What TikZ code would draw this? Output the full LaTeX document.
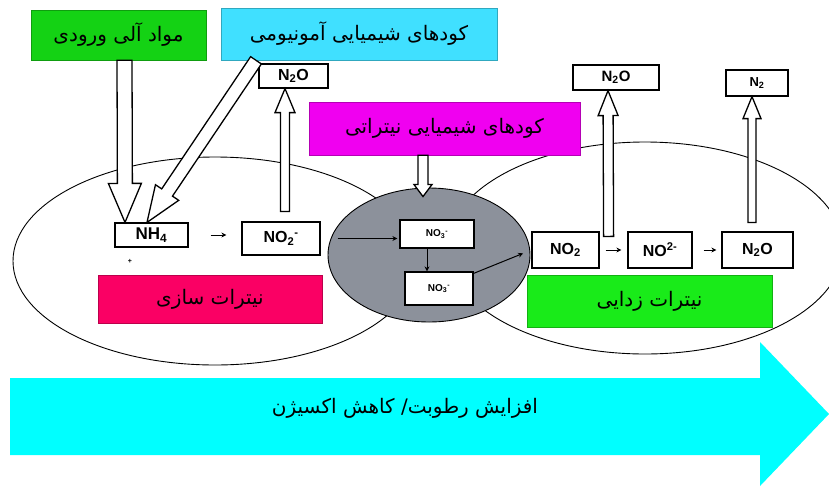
\documentclass[tikz,border=0pt]{standalone}
\usepackage{fontspec}
\setmainfont{Liberation Sans}
\newfontfamily\fafont[Script=Arabic]{DejaVu Sans}
\TeXXeTstate=1
\usetikzlibrary{calc,shapes.geometric,arrows.meta}
\definecolor{orggreen}{RGB}{20,210,20}
\definecolor{ammcyan}{RGB}{64,224,255}
\definecolor{nitmag}{RGB}{240,0,240}
\definecolor{nitred}{RGB}{250,0,100}
\definecolor{denitgreen}{RGB}{25,235,25}
\definecolor{mixgray}{RGB}{140,145,155}
\definecolor{trendcyan}{RGB}{0,255,255}
\newcommand{\hollowarrow}[5]{%
  \coordinate (hb) at ($(#2)!#5!(#1)$);
  \draw[hollow] ($(#1)!#3!90:(#2)$) -- ($(hb)!#3!90:(#2)$) -- ($(hb)!#4!90:(#2)$) -- (#2)
    -- ($(hb)!#4!-90:(#2)$) -- ($(hb)!#3!-90:(#2)$) -- ($(#1)!#3!-90:(#2)$) -- cycle;}

\begin{document}
\begin{tikzpicture}[x=1pt,y=-1pt,
  zone/.style={ellipse,draw,line width=0.9pt,inner sep=0pt},
  chem/.style={draw,line width=1.2pt,fill=white,inner sep=0pt},
  tag/.style={draw=#1!75!black,fill=#1,line width=0.6pt,inner sep=0pt,
    font=\fafont\fontsize{20}{24}\selectfont},
  flow/.style={-{Stealth[length=5pt,width=5pt]},line width=1pt},
  hollow/.style={draw=black,fill=white,line width=1.3pt,line join=miter}]
  \useasboundingbox (0,0) rectangle (829,488);
  \clip (0,0) rectangle (829,488);

  \node[zone,minimum width=404pt,minimum height=208pt] (lzone) at (215,261) {};
  \node[zone,minimum width=396pt,minimum height=212pt] (rzone) at (645,248) {};
  \node[zone,fill=mixgray,minimum width=202pt,minimum height=134pt] (mix) at (429,255) {};

  \node[tag=orggreen,minimum width=175pt,minimum height=50pt] (org) at (118.5,35) {\beginR مواد آلی ورودی\endR};
  \node[tag=ammcyan,minimum width=276pt,minimum height=52pt] (amm) at (359,34) {\beginR کودهای شیمیایی آمونیومی\endR};
  \node[tag=nitmag,minimum width=271pt,minimum height=53pt] (nitf) at (444.5,128.5) {\beginR کودهای شیمیایی نیتراتی\endR};
  \node[tag=nitred,minimum width=224pt,minimum height=48pt] (nitr) at (210,299) {\beginR نیترات سازی\endR};
  \node[tag=denitgreen,minimum width=245pt,minimum height=52pt] (denit) at (649.5,301) {\beginR نیترات زدایی\endR};

  \node[chem,minimum width=69pt,minimum height=24pt,font=\bfseries\fontsize{16}{16}\selectfont] (n2oa) at (293.5,76) {N\textsubscript{2}O};
  \node[chem,minimum width=86pt,minimum height=25pt,font=\bfseries\fontsize{15}{15}\selectfont] (n2ob) at (616,77.5) {N\textsubscript{2}O};
  \node[chem,minimum width=62pt,minimum height=26pt,font=\bfseries\fontsize{13}{13}\selectfont] (ntwo) at (757,83) {N\textsubscript{2}};
  \node[chem,minimum width=73pt,minimum height=24pt,font=\bfseries\fontsize{17}{17}\selectfont] (nh4) at (151.5,235) {NH\textsubscript{4}};
  \node[font=\bfseries\fontsize{7}{7}\selectfont] (plus) at (130,261) {+};
  \node[chem,minimum width=78pt,minimum height=33pt,font=\bfseries\fontsize{16}{16}\selectfont] (no2a) at (281,238.5) {NO\textsubscript{2}\textsuperscript{-}};
  \node[chem,minimum width=74pt,minimum height=28pt,font=\bfseries\fontsize{10}{10}\selectfont] (no3a) at (437,234) {NO\textsubscript{3}\textsuperscript{-}};
  \node[chem,minimum width=68pt,minimum height=33pt,font=\bfseries\fontsize{10}{10}\selectfont] (no3b) at (439,288.5) {NO\textsubscript{3}\textsuperscript{-}};
  \node[chem,minimum width=67pt,minimum height=36pt,font=\bfseries\fontsize{16}{16}\selectfont] (no2b) at (565.5,250) {NO\textsubscript{2}};
  \node[chem,minimum width=64pt,minimum height=36pt,font=\bfseries\fontsize{16}{16}\selectfont] (no2c) at (660,250) {NO\textsuperscript{2-}};
  \node[chem,minimum width=71pt,minimum height=36pt,font=\bfseries\fontsize{16}{16}\selectfont] (n2oc) at (757.5,250) {N\textsubscript{2}O};

  \coordinate (a1) at ([xshift=6pt]org.south);
  \coordinate (t1) at ([xshift=-26.5pt]nh4.north);
  \coordinate (a2) at ([xshift=-103pt]amm.south);
  \coordinate (t2) at ([xshift=-4.5pt]nh4.north);
  \coordinate (a3) at ([xshift=4pt,yshift=10pt]no2a.north);
  \coordinate (t3) at ([xshift=-8.5pt]n2oa.south);
  \coordinate (a4) at ([xshift=-21.5pt]nitf.south);
  \coordinate (t4) at ([xshift=-6pt,yshift=-9pt]mix.north);
  \coordinate (a5) at ([xshift=9pt,yshift=-5pt]no2b.north east);
  \coordinate (t5) at ([xshift=-8pt]n2ob.south);
  \coordinate (a6) at ([xshift=-5.5pt,yshift=9pt]n2oc.north);
  \coordinate (t6) at ([xshift=-5pt]ntwo.south);
  \hollowarrow{a1}{t1}{7.5pt}{16.5pt}{39pt}
  \hollowarrow{a2}{t2}{6.5pt}{14pt}{36pt}
  \hollowarrow{a3}{t3}{4.5pt}{10pt}{24pt}
  \hollowarrow{a4}{t4}{5pt}{9pt}{12pt}
  \hollowarrow{a5}{t5}{5pt}{10pt}{25pt}
  \hollowarrow{a6}{t6}{4pt}{9pt}{22pt}

  \draw[flow,shorten <=22pt,shorten >=15pt] (nh4.east) -- (nh4.east -| no2a.west);
  \draw[flow,shorten <=17pt,shorten >=2pt] (no2a.east) -- (no2a.east -| no3a.west);
  \draw[flow] ([xshift=-10pt]no3a.south) -- ([xshift=-10pt]no3a.south |- no3b.north);
  \draw[flow,shorten >=9pt] ([yshift=-2pt]no3b.north east) -- (no2b.west);
  \draw[flow,shorten <=6pt,shorten >=6pt] (no2b) -- (no2c);
  \draw[flow,shorten <=11pt,shorten >=5pt] (no2c) -- (n2oc);

  \fill[trendcyan] (10,378) -- (760,378) -- (760,342) -- (829,414) -- (760,486) -- (760,455) -- (10,455) -- cycle;
  \node[font=\fafont\fontsize{20}{24}\selectfont] (trend) at (405,408) {\beginR افزایش رطوبت/ کاهش اکسیژن\endR};
\end{tikzpicture}
\end{document}
